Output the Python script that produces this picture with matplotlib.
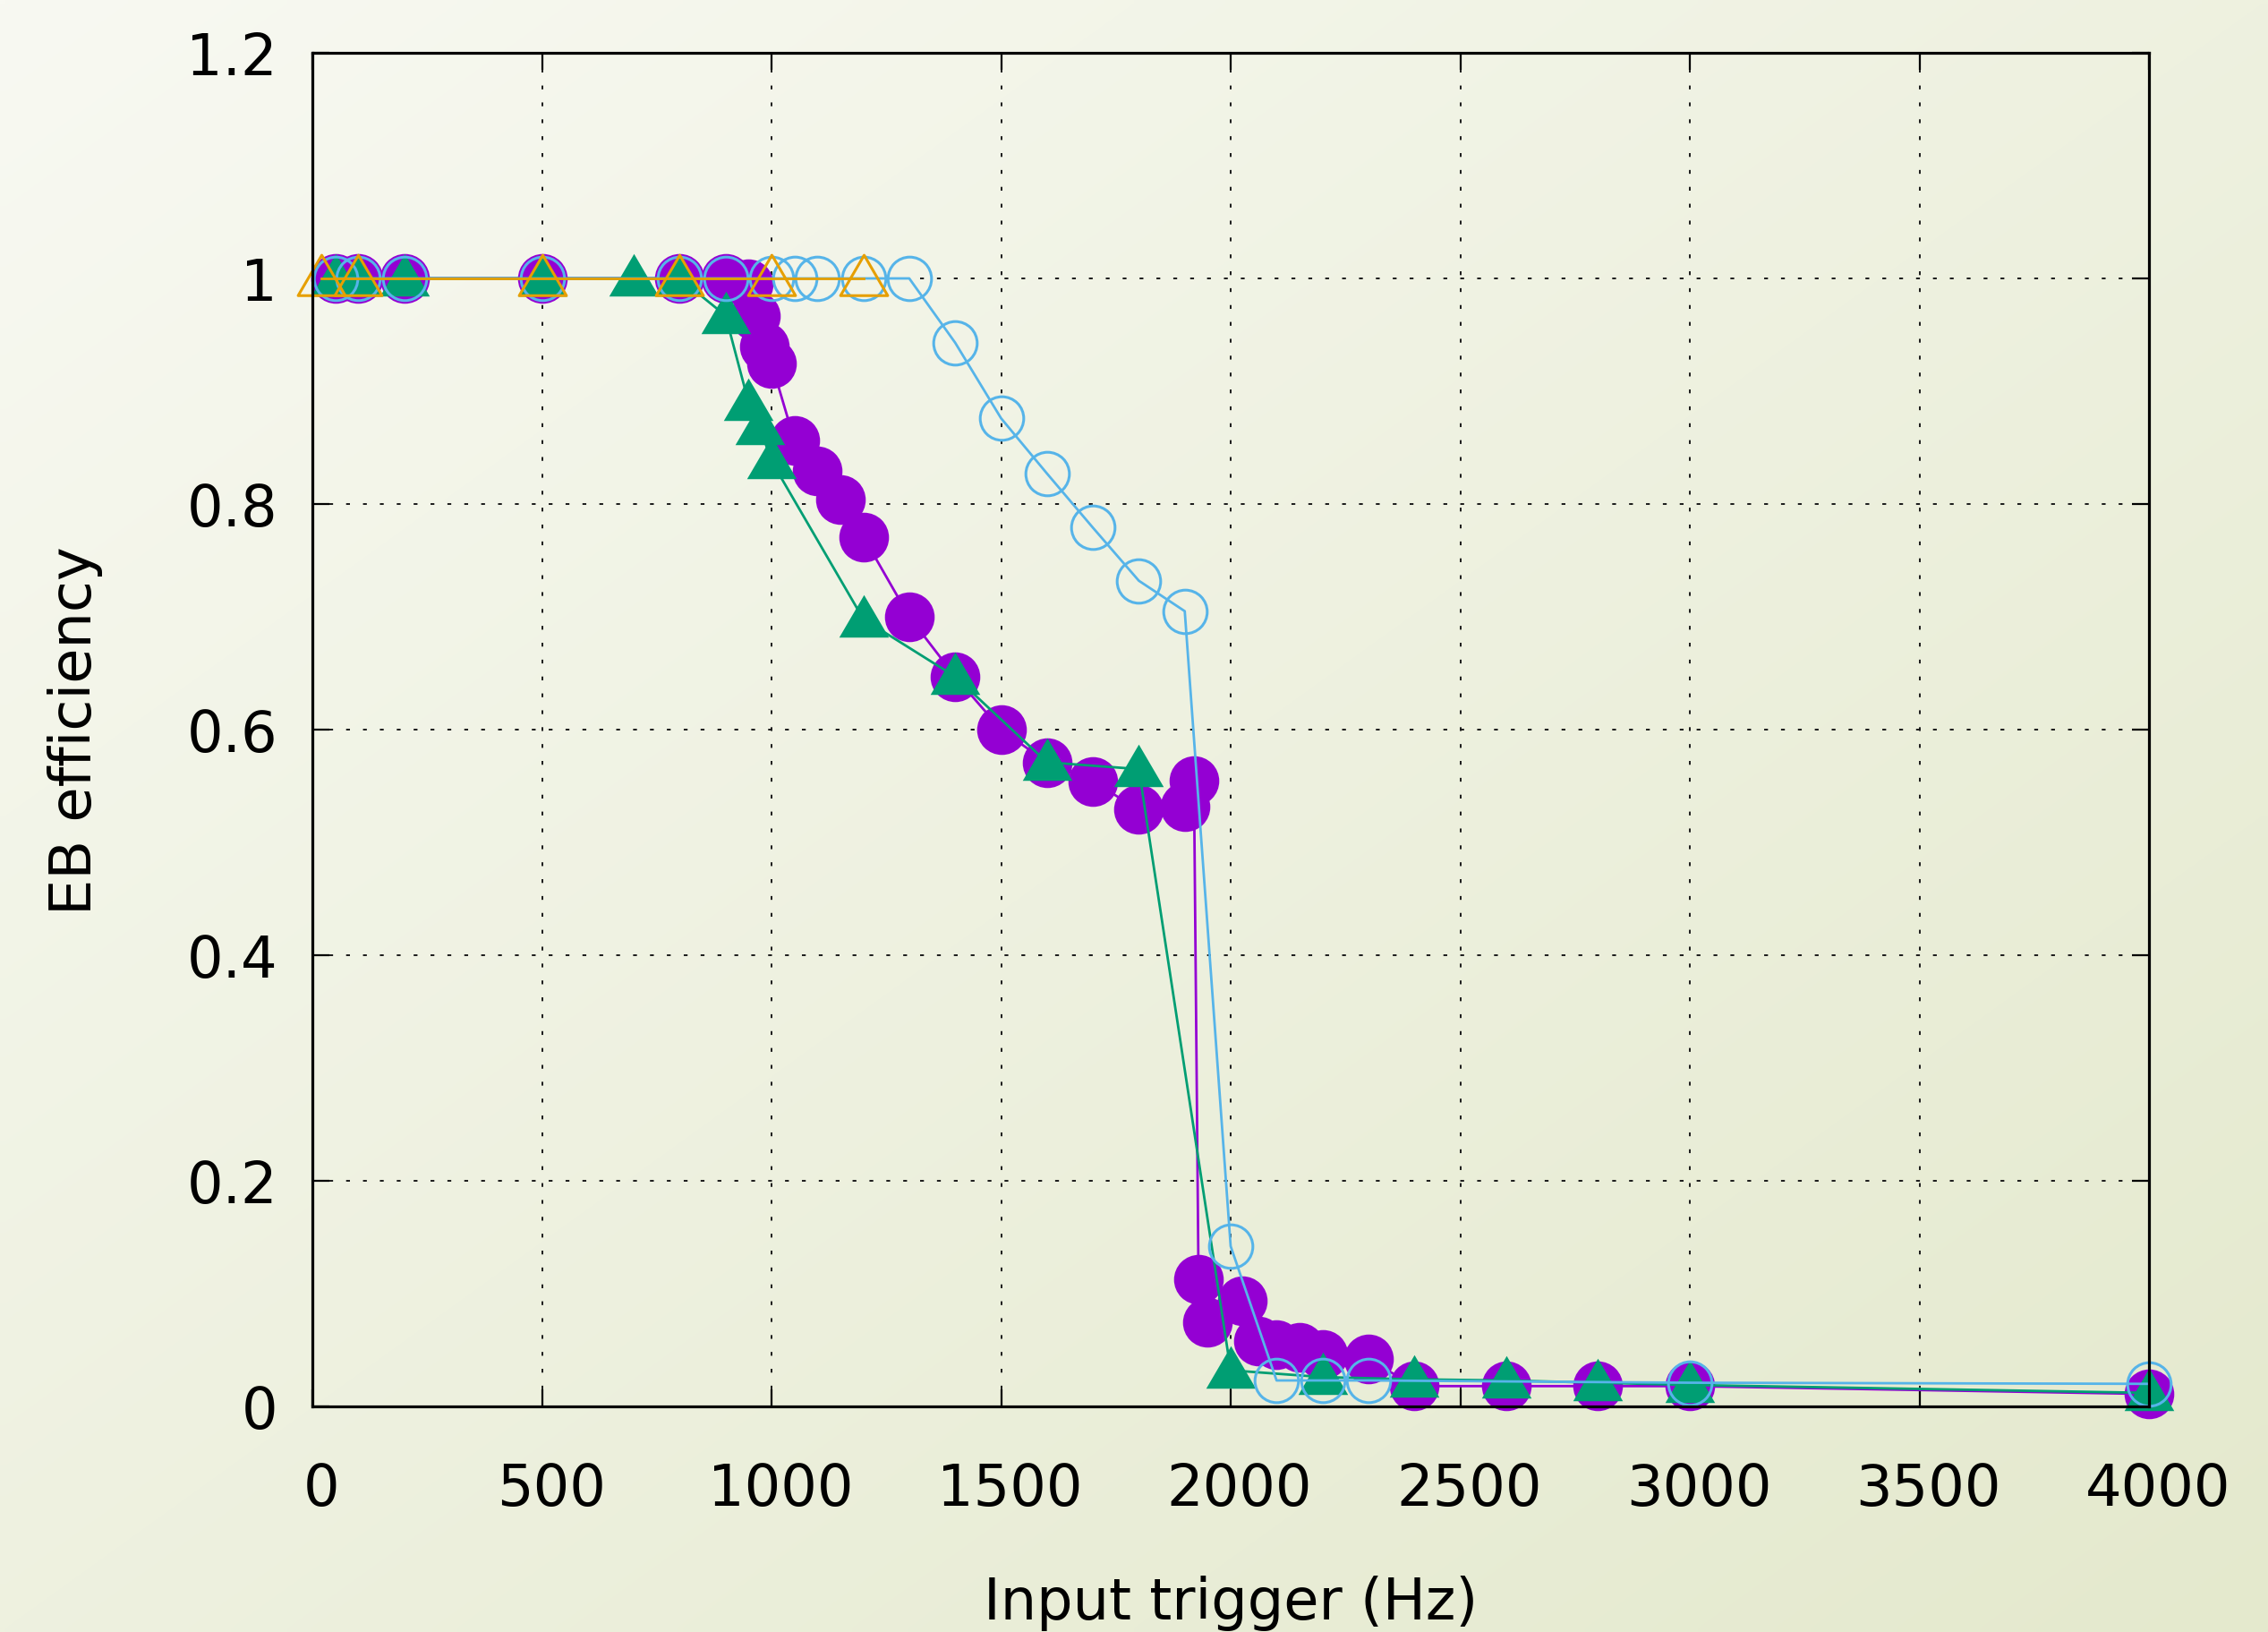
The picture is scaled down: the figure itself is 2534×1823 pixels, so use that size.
import numpy as np
import matplotlib
matplotlib.use("Agg")
import matplotlib.pyplot as plt
from matplotlib.path import Path
from matplotlib.transforms import ScaledTranslation

# data
purple_x = [50, 100, 200, 500, 800, 900, 950, 965, 985, 1000, 1050, 1100, 1150, 1200,
            1300, 1400, 1500, 1600, 1700, 1800, 1900, 1920, 1930, 1950, 2025, 2060,
            2100, 2150, 2200, 2300, 2400, 2600, 2800, 3000, 4000]
purple_y = [1, 1, 1, 1, 1, 1, 0.995, 0.967, 0.94, 0.925, 0.856, 0.829, 0.804, 0.771,
            0.70, 0.647, 0.60, 0.571, 0.554, 0.529, 0.532, 0.555, 0.113, 0.075, 0.094, 0.058,
            0.055, 0.052, 0.046, 0.042, 0.018, 0.018, 0.018, 0.018, 0.011]

green_x = [50, 100, 200, 500, 700, 800, 900, 950, 975, 1000, 1200, 1400, 1600, 1800,
           2000, 2200, 2400, 2600, 2800, 3000, 4000]
green_y = [1, 1, 1, 1, 1, 1, 0.967, 0.89, 0.868, 0.838, 0.698, 0.647, 0.571, 0.565,
           0.032, 0.026, 0.024, 0.023, 0.021, 0.019, 0.012]

blue_x = [50, 100, 200, 500, 800, 900, 1000, 1050, 1100, 1200, 1300, 1400, 1500, 1600,
          1700, 1800, 1900, 2000, 2100, 2200, 2300, 3000, 4000]
blue_y = [1, 1, 1, 1, 1, 1, 1, 1, 1, 1, 1, 0.943, 0.876, 0.827,
          0.779, 0.732, 0.705, 0.142, 0.023, 0.023, 0.023, 0.021, 0.020]

orange_x = [20, 100, 500, 800, 1000, 1200]
orange_y = [1, 1, 1, 1, 1, 1]

x_ticks = [0, 500, 1000, 1500, 2000, 2500, 3000, 3500, 4000]
y_ticks = [0, 0.2, 0.4, 0.6, 0.8, 1.0, 1.2]
y_tick_labels = ["0", "0.2", "0.4", "0.6", "0.8", "1", "1.2"]

plt.rcParams['font.family'] = ['DejaVu Sans']

fig = plt.figure(figsize=(25.34, 18.24), dpi=100)

# slide-like diagonal gradient background
bg = fig.add_axes([0, 0, 1, 1], zorder=-10)
c0 = np.array([0xf8, 0xf9, 0xf2]) / 255
c1 = np.array([0xe4, 0xe9, 0xcd]) / 255
gx, gy = np.meshgrid(np.linspace(0, 1, 200), np.linspace(0, 1, 200))
t = (gx + gy) / 2
grad = c0[None, None, :] * (1 - t[..., None]) + c1[None, None, :] * t[..., None]
bg.imshow(grad, aspect='auto', extent=[0, 1, 0, 1], interpolation='bilinear')
bg.axis('off')

ax = fig.add_axes([349 / 2534, 1 - 1572 / 1824, 2052 / 2534, 1512 / 1824])
ax.set_facecolor('none')

# gnuplot-like triangle (point sits a bit below centre)
tri = Path([(0, 1.0), (-1, -0.71), (1, -0.71), (0, 1.0)],
           [Path.MOVETO, Path.LINETO, Path.LINETO, Path.CLOSEPOLY])

lw = 2.0
ax.plot(purple_x, purple_y, color='#9400D3', lw=lw, marker='o', ms=40,
        mec='#9400D3', mew=0, clip_on=False, zorder=3)
ax.plot(green_x, green_y, color='#009E73', lw=lw, marker=tri, ms=40,
        mec='#009E73', mew=0, clip_on=False, zorder=4)
ax.plot(blue_x, blue_y, color='#56B4E9', lw=lw, marker='o', ms=35,
        mfc='none', mec='#56B4E9', mew=2.2, clip_on=False, zorder=5)
ax.plot(orange_x, orange_y, color='#E69F00', lw=lw, marker=tri, ms=38,
        mfc='none', mec='#E69F00', mew=2.2, clip_on=False, zorder=6)

ax.set_xlim(0, 4000)
ax.set_ylim(0, 1.2)
ax.set_xticks(x_ticks)
ax.set_yticks(y_ticks)
ax.set_yticklabels(y_tick_labels)

ax.grid(True, color='#1a1a1a', lw=1.4, linestyle=(0, (2.2, 7.5)))
ax.set_axisbelow(True)

for s in ax.spines.values():
    s.set_linewidth(2.3)
    s.set_zorder(7)

ax.tick_params(axis='both', which='major', direction='in', length=14, width=1.6,
               top=True, right=True, labelsize=46, colors='black')
ax.tick_params(axis='y', pad=28)
ax.tick_params(axis='x', pad=44)

# gnuplot puts x labels slightly right of the tick
off = ScaledTranslation(10 / 100, 0, fig.dpi_scale_trans)
for lbl in ax.get_xticklabels():
    lbl.set_transform(lbl.get_transform() + off)

ax.set_xlabel("Input trigger (Hz)", fontsize=46)
ax.xaxis.set_label_coords(0.5, -0.1243)
ax.set_ylabel("EB efficiency", fontsize=46)
ax.yaxis.set_label_coords(-0.114, 0.5)

plt.savefig('out.png', dpi=100)
